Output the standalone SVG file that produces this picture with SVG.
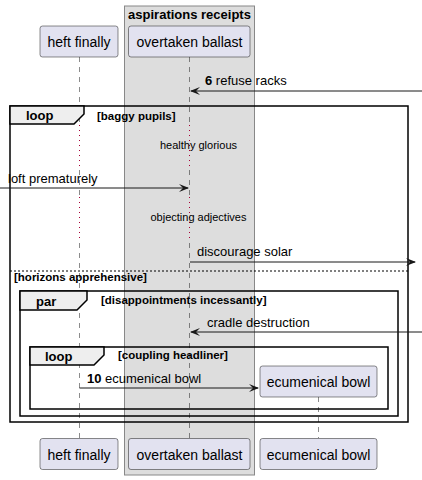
<svg xmlns="http://www.w3.org/2000/svg" width="422" height="480" viewBox="0 0 422 480">
<style>
text{font-family:"Liberation Sans",Arial,sans-serif;fill:#000}
.p{fill:#E2E2F0;stroke:#181818;stroke-width:0.5}
.pt{font-size:14px;text-anchor:middle}
.life{stroke:#181818;stroke-width:0.5;stroke-dasharray:5,5}
.delay{stroke:#A80036;stroke-width:1;stroke-dasharray:1,4}
.msg{stroke:#181818;stroke-width:1}
.ah{fill:#181818}
.m{font-size:13px}
.b{font-weight:bold}
.frame{fill:none;stroke:#000;stroke-width:1.5}
.tab{fill:#EEEEEE;stroke:#000;stroke-width:1.5}
.ft{font-size:13px;font-weight:bold}
.fc{font-size:11.5px;font-weight:bold}
.dt{font-size:11px;text-anchor:middle}
</style>
<g id="box-aspirations">
<rect x="124.5" y="6" width="130" height="469" fill="#DDDDDD" stroke="#888888" stroke-width="1"/>
<text x="189.5" y="19" class="ft" text-anchor="middle">aspirations receipts</text>
</g>
<g id="lifelines">
<line class="life" x1="79.5" y1="57" x2="79.5" y2="124"/>
<line class="delay" x1="79.5" y1="125" x2="79.5" y2="168"/>
<line class="life" x1="79.5" y1="170" x2="79.5" y2="196"/>
<line class="delay" x1="79.5" y1="197" x2="79.5" y2="241"/>
<line class="life" x1="79.5" y1="243" x2="79.5" y2="438"/>
<line class="life" x1="189.5" y1="57" x2="189.5" y2="124"/>
<line class="delay" x1="189.5" y1="125" x2="189.5" y2="168"/>
<line class="life" x1="189.5" y1="170" x2="189.5" y2="196"/>
<line class="delay" x1="189.5" y1="197" x2="189.5" y2="241"/>
<line class="life" x1="189.5" y1="243" x2="189.5" y2="438"/>
<line class="life" x1="318.5" y1="397" x2="318.5" y2="438"/>
</g>
<g id="frames">
<rect class="frame" x="10" y="106" width="398" height="316"/>
<polygon class="tab" points="10,106 84,106 84,114 74,124 10,124"/>
<text x="26" y="120" class="ft">loop</text>
<text x="97" y="120" class="fc">[baggy pupils]</text>
<line x1="10" y1="271" x2="408" y2="271" stroke="#000" stroke-width="1" stroke-dasharray="2,2"/>
<text x="14" y="281" class="fc">[horizons apprehensive]</text>
<rect class="frame" x="20" y="291" width="378" height="125"/>
<polygon class="tab" points="20,291 87,291 87,300 77,310 20,310"/>
<text x="36" y="306" class="ft">par</text>
<text x="101" y="304" class="fc">[disappointments incessantly]</text>
<rect class="frame" x="30" y="347" width="358" height="62"/>
<polygon class="tab" points="30,347 104,347 104,355 94,365 30,365"/>
<text x="45" y="361" class="ft">loop</text>
<text x="118" y="359" class="fc">[coupling headliner]</text>
</g>
<g id="delays">
<text x="198.5" y="149" class="dt">healthy glorious</text>
<text x="198.5" y="221" class="dt">objecting adjectives</text>
</g>
<g id="connectors">
<line class="msg" x1="422" y1="91" x2="191" y2="91"/>
<polygon class="ah" points="190,91 200,87 196,91 200,95"/>
<text x="205" y="85" class="m"><tspan class="b">6</tspan> refuse racks</text>
<line class="msg" x1="0" y1="188" x2="188" y2="188"/>
<polygon class="ah" points="189,188 179,184 183,188 179,192"/>
<text x="8" y="183" class="m">loft prematurely</text>
<line class="msg" x1="190" y1="262" x2="415" y2="262"/>
<polygon class="ah" points="416,262 406,258 410,262 406,266"/>
<text x="197" y="256" class="m">discourage solar</text>
<line class="msg" x1="422" y1="332" x2="191" y2="332"/>
<polygon class="ah" points="190,332 200,328 196,332 200,336"/>
<text x="207" y="327" class="m">cradle destruction</text>
<line class="msg" x1="79.5" y1="388" x2="258" y2="388"/>
<polygon class="ah" points="259,388 249,384 253,388 249,392"/>
<text x="87" y="383" class="m"><tspan class="b">10</tspan> ecumenical bowl</text>
</g>
<g id="p-heft-finally">
<rect class="p" x="40" y="26" width="78" height="31" rx="2.5"/>
<text x="79" y="47" class="pt">heft finally</text>
<rect class="p" x="40" y="438.5" width="78" height="31" rx="2.5"/>
<text x="79" y="459.5" class="pt">heft finally</text>
</g>
<g id="p-overtaken-ballast">
<rect class="p" x="128.5" y="26" width="121.5" height="31" rx="2.5"/>
<text x="189.5" y="47" class="pt">overtaken ballast</text>
<rect class="p" x="128.5" y="438.5" width="121.5" height="31" rx="2.5"/>
<text x="189.5" y="459.5" class="pt">overtaken ballast</text>
</g>
<g id="p-ecumenical-bowl">
<rect class="p" x="260" y="366" width="117" height="31" rx="2.5"/>
<text x="318.5" y="387" class="pt">ecumenical bowl</text>
<rect class="p" x="260" y="438.5" width="117" height="31" rx="2.5"/>
<text x="318.5" y="459.5" class="pt">ecumenical bowl</text>
</g>
</svg>
